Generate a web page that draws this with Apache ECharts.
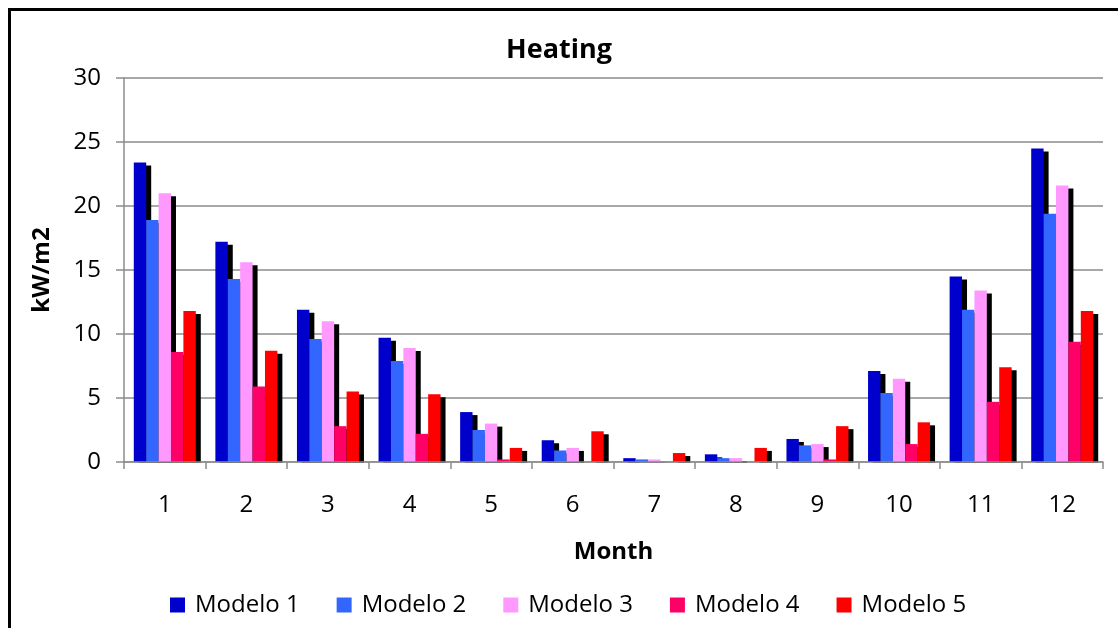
<!DOCTYPE html>
<html>
<head>
<meta charset="utf-8">
<script src="https://cdn.jsdelivr.net/npm/echarts@6/dist/echarts.min.js"></script>
<style>
  html, body { margin: 0; padding: 0; background: #fff; }
  #chart { width: 1118px; height: 628px; }
</style>
</head>
<body>
<div id="chart"></div>
<script>
// Monthly heating demand per model (kW/m2)
const months = ['1', '2', '3', '4', '5', '6', '7', '8', '9', '10', '11', '12'];
const seriesNames = ['Modelo 1', 'Modelo 2', 'Modelo 3', 'Modelo 4', 'Modelo 5'];
const modelo1 = [23.4, 17.2, 11.9, 9.7, 3.9, 1.7, 0.3, 0.6, 1.8, 7.1, 14.5, 24.5];
const modelo2 = [18.9, 14.3, 9.6, 7.9, 2.5, 0.9, 0.2, 0.3, 1.3, 5.4, 11.9, 19.4];
const modelo3 = [21.0, 15.6, 11.0, 8.9, 3.0, 1.1, 0.2, 0.3, 1.4, 6.5, 13.4, 21.6];
const modelo4 = [8.6, 5.9, 2.8, 2.2, 0.2, 0, 0, 0, 0.2, 1.4, 4.7, 9.4];
const modelo5 = [11.8, 8.7, 5.5, 5.3, 1.1, 2.4, 0.7, 1.1, 2.8, 3.1, 7.4, 11.8];
const yTicks = { min: 0, max: 30, interval: 5 };

const colors = ['#0000CC', '#3366FF', '#FF99FF', '#FF0066', '#FF0000'];
const values = [modelo1, modelo2, modelo3, modelo4, modelo5];
const font = '"Open Sans", "Liberation Sans", sans-serif';

const W = 1118, H = 628;
const grid = { left: 124, right: 15, top: 78, bottom: 166 };
const axisY = H - grid.bottom;

const chart = echarts.init(document.getElementById('chart'), null, { renderer: 'canvas' });

chart.setOption({
  animation: false,
  color: colors,
  title: {
    text: 'Heating',
    left: 'center',
    top: 32,
    textStyle: { fontFamily: font, fontSize: 27, fontWeight: 'bold', color: '#000' }
  },
  legend: {
    left: 165,
    top: 588,
    icon: 'rect',
    itemWidth: 15,
    itemHeight: 15,
    itemGap: 37,
    itemStyle: { shadowBlur: 0, shadowOffsetX: 0, shadowOffsetY: 0, shadowColor: 'transparent' },
    textStyle: { fontFamily: font, fontSize: 24, color: '#000', padding: [0, 0, 0, 5] },
    data: seriesNames
  },
  grid: Object.assign({ containLabel: false }, grid),
  xAxis: {
    type: 'category',
    z: 10,
    data: months,
    name: 'Month',
    nameLocation: 'middle',
    nameGap: 78,
    nameTextStyle: { fontFamily: font, fontSize: 24, fontWeight: 'bold', color: '#000' },
    axisLine: { lineStyle: { color: '#8c8c8c', width: 1.5 } },
    axisTick: { show: true, length: 7, alignWithLabel: false, lineStyle: { color: '#8c8c8c', width: 1.5 } },
    axisLabel: { fontFamily: font, fontSize: 24, color: '#000', margin: 31 }
  },
  yAxis: {
    type: 'value',
    min: yTicks.min,
    max: yTicks.max,
    interval: yTicks.interval,
    name: 'kW/m2',
    nameLocation: 'middle',
    nameGap: 70,
    nameTextStyle: { fontFamily: font, fontSize: 24, fontWeight: 'bold', color: '#000' },
    axisLine: { show: true, lineStyle: { color: '#8c8c8c', width: 1.5 } },
    axisTick: { show: true, length: 8, lineStyle: { color: '#8c8c8c', width: 1.5 } },
    axisLabel: { fontFamily: font, fontSize: 24, color: '#000', margin: 23 },
    splitLine: { lineStyle: { color: '#8c8c8c', width: 1.5 } }
  },
  series: seriesNames.map((name, i) => ({
    name: name,
    type: 'bar',
    data: values[i],
    barGap: '0%',
    barCategoryGap: '24%',
    itemStyle: {
      color: colors[i],
      borderRadius: 0,
      shadowColor: '#000',
      shadowBlur: 0,
      shadowOffsetX: 5,
      shadowOffsetY: 3
    }
  })),
  graphic: [
    {
      // hides the drop shadows where they fall below the category axis
      type: 'rect',
      silent: true,
      z: 5,
      shape: { x: grid.left - 1, y: axisY + 0.8, width: W - grid.left - grid.right + 12, height: 5 },
      style: { fill: '#fff' }
    },
    {
      // outer chart frame
      type: 'rect',
      silent: true,
      z: 20,
      shape: { x: 9.5, y: 9.5, width: 1200, height: 800 },
      style: { fill: 'none', stroke: '#000', lineWidth: 3 }
    }
  ]
});
</script>
</body>
</html>
